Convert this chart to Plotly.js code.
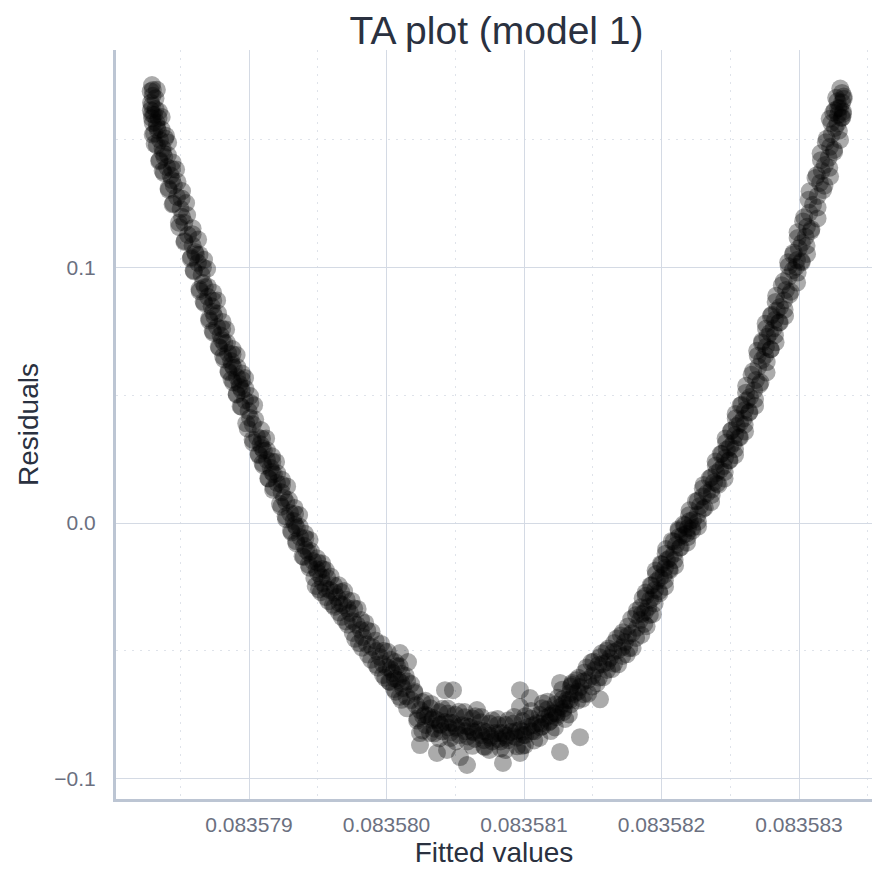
<!DOCTYPE html>
<html>
<head>
<meta charset="utf-8">
<script src="https://cdn.plot.ly/plotly-3.0.1.min.js"></script>
<style>html,body{margin:0;padding:0;background:#fff;}#chart{width:872px;height:871px;}</style>
</head>
<body>
<div id="chart"></div>
<script>
const chartTitle = 'TA plot (model 1)';
const xLabel = 'Fitted values';
const yLabel = 'Residuals';

// Points read along the band, first pass
const fittedA = [
0.0835782945,0.0835783000,0.0835783200,
0.0835782873,0.0835783200,0.0835782950,
0.0835783091,0.0835783420,0.0835783000,
0.0835783309,0.0835783650,0.0835783100,
0.0835783527,0.0835783900,0.0835783300,
0.0835783745,0.0835784100,0.0835783500,
0.0835784036,0.0835784400,0.0835783800,
0.0835784400,0.0835784800,0.0835784150,
0.0835784764,0.0835785100,0.0835784500,
0.0835785127,0.0835785500,0.0835784900,
0.0835785564,0.0835785900,0.0835785300,
0.0835786073,0.0835786400,0.0835785800,
0.0835786291,0.0835786650,0.0835786000,
0.0835786655,0.0835787000,0.0835786400,
0.0835787018,0.0835787400,0.0835786750,
0.0835787382,0.0835787750,0.0835787100,
0.0835787673,0.0835788050,0.0835787400,
0.0835788036,0.0835788400,0.0835787800,
0.0835788473,0.0835788800,0.0835788200,
0.0835788764,0.0835789150,0.0835788500,
0.0835789127,0.0835789500,0.0835788850,
0.0835789345,0.0835789750,0.0835789100,
0.0835789709,0.0835790100,0.0835789450,
0.0835790073,0.0835790450,0.0835789800,
0.0835790582,0.0835790950,0.0835790300,
0.0835790945,0.0835791300,0.0835790700,
0.0835791309,0.0835791700,0.0835791050,
0.0835791673,0.0835792050,0.0835791400,
0.0835792036,0.0835792400,0.0835791750,
0.0835792545,0.0835792900,0.0835792250,
0.0835792982,0.0835793350,0.0835792700,
0.0835793345,0.0835793700,0.0835793050,
0.0835793709,0.0835794100,0.0835793450,
0.0835794145,0.0835794500,0.0835793900,
0.0835794655,0.0835795000,0.0835794400,
0.0835795018,0.0835795350,0.0835794750,
0.0835795382,0.0835795700,0.0835795100,
0.0835795891,0.0835796200,0.0835795600,
0.0835796400,0.0835796700,0.0835796100,
0.0835796836,0.0835797100,0.0835796550,
0.0835797345,0.0835797650,0.0835797050,
0.0835797855,0.0835798150,0.0835797550,
0.0835798291,0.0835798600,0.0835798000,
0.0835798945,0.0835799200,0.0835798650,
0.0835799527,0.0835799800,0.0835799250,
0.0835800036,0.0835800300,0.0835799750,
0.0835800473,0.0835800750,0.0835800200,
0.0835800836,0.0835801100,0.0835800550,
0.0835801200,0.0835801500,0.0835800950,
0.0835801782,0.0835802050,0.0835801500,
0.0835802436,0.0835802600,0.0835802250,0.0835802800,
0.0835803018,0.0835803200,0.0835802850,0.0835803300,
0.0835803673,0.0835803850,0.0835803500,0.0835803900,
0.0835804255,0.0835804450,0.0835804050,0.0835804500,
0.0835804836,0.0835805000,0.0835804650,0.0835805100,
0.0835805491,0.0835805700,0.0835805300,0.0835805750,
0.0835806073,0.0835806250,0.0835805900,0.0835806350,
0.0835806655,0.0835806850,0.0835806450,0.0835806900,
0.0835807309,0.0835807500,0.0835807100,0.0835807550,
0.0835807891,0.0835808100,0.0835807700,0.0835808150,
0.0835808473,0.0835808650,0.0835808300,0.0835808700,
0.0835809055,0.0835809250,0.0835808850,0.0835809300,
0.0835809709,0.0835809900,0.0835809500,0.0835809950,
0.0835810291,0.0835810500,0.0835810100,0.0835810550,
0.0835810945,0.0835811150,0.0835810750,0.0835811200,
0.0835811527,0.0835811700,0.0835811350,0.0835811800,
0.0835812109,0.0835812300,0.0835811900,0.0835812350,
0.0835812618,0.0835812800,0.0835812400,0.0835812850,
0.0835813127,0.0835813350,0.0835812900,0.0835813400,
0.0835813636,0.0835813900,0.0835813400,
0.0835814073,0.0835814350,0.0835813800,
0.0835814655,0.0835814950,0.0835814400,
0.0835815164,0.0835815450,0.0835814900,
0.0835815745,0.0835816050,0.0835815500,
0.0835816255,0.0835816550,0.0835816000,
0.0835816836,0.0835817150,0.0835816550,
0.0835817345,0.0835817650,0.0835817050,
0.0835817855,0.0835818150,0.0835817550,
0.0835818436,0.0835818750,0.0835818150,
0.0835818800,0.0835819150,0.0835818500,
0.0835819164,0.0835819500,0.0835818850,
0.0835819527,0.0835819850,0.0835819200,
0.0835819891,0.0835820250,0.0835819600,
0.0835820255,0.0835820600,0.0835819950,
0.0835820618,0.0835820950,0.0835820300,
0.0835821055,0.0835821400,0.0835820750,
0.0835821564,0.0835821900,0.0835821250,
0.0835821927,0.0835822250,0.0835821600,
0.0835822291,0.0835822650,0.0835822000,
0.0835822800,0.0835823150,0.0835822500,
0.0835823309,0.0835823650,0.0835823000,
0.0835823818,0.0835824150,0.0835823500,
0.0835824255,0.0835824600,0.0835823950,
0.0835824618,0.0835824950,0.0835824300,
0.0835824982,0.0835825350,0.0835824700,
0.0835825345,0.0835825700,0.0835825050,
0.0835825709,0.0835826050,0.0835825400,
0.0835826073,0.0835826400,0.0835825750,
0.0835826436,0.0835826800,0.0835826150,
0.0835826873,0.0835827200,0.0835826550,
0.0835827309,0.0835827650,0.0835827000,
0.0835827600,0.0835827950,0.0835827300,
0.0835827891,0.0835828250,0.0835827600,
0.0835828255,0.0835828600,0.0835827950,
0.0835828618,0.0835828950,0.0835828300,
0.0835829055,0.0835829400,0.0835828750,
0.0835829564,0.0835829900,0.0835829250,
0.0835829855,0.0835830200,0.0835829550,
0.0835830218,0.0835830550,0.0835829900,
0.0835830582,0.0835830900,0.0835830300,
0.0835831018,0.0835831350,0.0835830700,
0.0835831527,0.0835831850,0.0835831200,
0.0835831891,0.0835832200,0.0835831600,
0.0835832255,0.0835832550,0.0835831950,
0.0835832618,0.0835832900,0.0835832350,
0.0835832836,0.0835833100,0.0835832600,
0.0835832982,0.0835833200,0.0835832800,
0.0835833127,0.0835833250,0.0835833000,
0.0835803670,0.0835805855,0.0835808470,0.0835812620,0.0835802436,0.0835810070,0.0835804836,0.0835809710
];

const residA = [
0.1714,0.1694,0.1662,
0.1645,0.1620,0.1600,
0.1597,0.1585,0.1565,
0.1550,0.1540,0.1525,
0.1499,0.1505,0.1478,
0.1448,0.1440,0.1420,
0.1393,0.1385,0.1370,
0.1342,0.1335,0.1310,
0.1276,0.1270,0.1250,
0.1198,0.1205,0.1175,
0.1127,0.1130,0.1100,
0.1061,0.1050,0.1040,
0.1018,0.1000,0.0985,
0.0939,0.0925,0.0915,
0.0885,0.0870,0.0860,
0.0826,0.0820,0.0800,
0.0767,0.0760,0.0745,
0.0716,0.0705,0.0690,
0.0665,0.0660,0.0640,
0.0618,0.0610,0.0595,
0.0571,0.0560,0.0550,
0.0532,0.0525,0.0505,
0.0481,0.0470,0.0455,
0.0411,0.0405,0.0390,
0.0337,0.0330,0.0315,
0.0294,0.0285,0.0270,
0.0247,0.0240,0.0225,
0.0200,0.0195,0.0175,
0.0157,0.0150,0.0130,
0.0098,0.0090,0.0075,
0.0039,0.0035,0.0015,
-0.0008,-0.0015,-0.0030,
-0.0055,-0.0060,-0.0080,
-0.0106,-0.0110,-0.0130,
-0.0149,-0.0155,-0.0175,
-0.0196,-0.0180,-0.0215,
-0.0235,-0.0215,-0.0260,
-0.0262,-0.0245,-0.0290,
-0.0290,-0.0270,-0.0320,
-0.0321,-0.0300,-0.0350,
-0.0352,-0.0335,-0.0385,
-0.0399,-0.0380,-0.0430,
-0.0446,-0.0420,-0.0470,
-0.0485,-0.0460,-0.0515,
-0.0524,-0.0500,-0.0555,
-0.0564,-0.0535,-0.0595,
-0.0587,-0.0560,-0.0620,
-0.0614,-0.0590,-0.0650,
-0.0646,-0.0620,-0.0680,
-0.0693,-0.0665,-0.0725,
-0.0732,-0.0700,-0.0765,-0.0750,
-0.0755,-0.0725,-0.0790,-0.0770,
-0.0771,-0.0740,-0.0805,-0.0790,
-0.0779,-0.0745,-0.0815,-0.0800,
-0.0783,-0.0750,-0.0820,-0.0805,
-0.0791,-0.0760,-0.0830,-0.0815,
-0.0798,-0.0765,-0.0835,-0.0820,
-0.0810,-0.0780,-0.0845,-0.0830,
-0.0818,-0.0785,-0.0850,-0.0840,
-0.0822,-0.0790,-0.0855,-0.0845,
-0.0822,-0.0790,-0.0855,-0.0840,
-0.0818,-0.0785,-0.0850,-0.0835,
-0.0810,-0.0775,-0.0840,-0.0830,
-0.0798,-0.0765,-0.0830,-0.0815,
-0.0783,-0.0750,-0.0815,-0.0800,
-0.0763,-0.0730,-0.0795,-0.0780,
-0.0744,-0.0710,-0.0775,-0.0760,
-0.0720,-0.0690,-0.0750,-0.0740,
-0.0693,-0.0665,-0.0725,-0.0710,
-0.0669,-0.0695,-0.0640,
-0.0642,-0.0670,-0.0615,
-0.0614,-0.0640,-0.0585,
-0.0575,-0.0605,-0.0545,
-0.0552,-0.0575,-0.0525,
-0.0528,-0.0550,-0.0500,
-0.0497,-0.0520,-0.0470,
-0.0466,-0.0490,-0.0440,
-0.0431,-0.0450,-0.0405,
-0.0380,-0.0395,-0.0360,
-0.0348,-0.0360,-0.0330,
-0.0301,-0.0315,-0.0285,
-0.0262,-0.0275,-0.0245,
-0.0215,-0.0225,-0.0200,
-0.0176,-0.0185,-0.0160,
-0.0137,-0.0145,-0.0120,
-0.0086,-0.0095,-0.0070,
-0.0047,-0.0055,-0.0030,
-0.0020,-0.0030,-0.0005,
0.0012,0.0005,0.0030,
0.0067,0.0060,0.0085,
0.0117,0.0110,0.0135,
0.0160,0.0150,0.0175,
0.0207,0.0200,0.0225,
0.0254,0.0245,0.0270,
0.0297,0.0290,0.0315,
0.0344,0.0335,0.0360,
0.0391,0.0385,0.0410,
0.0442,0.0435,0.0460,
0.0493,0.0485,0.0510,
0.0560,0.0550,0.0580,
0.0638,0.0630,0.0655,
0.0689,0.0680,0.0705,
0.0744,0.0735,0.0760,
0.0795,0.0785,0.0810,
0.0845,0.0835,0.0865,
0.0912,0.0905,0.0930,
0.0990,0.0980,0.1005,
0.1029,0.1020,0.1050,
0.1096,0.1085,0.1115,
0.1159,0.1150,0.1180,
0.1245,0.1235,0.1265,
0.1331,0.1320,0.1350,
0.1401,0.1390,0.1420,
0.1472,0.1460,0.1490,
0.1546,0.1535,0.1565,
0.1597,0.1585,0.1615,
0.1624,0.1610,0.1650,
0.1683,0.1660,0.1700,
-0.0900,-0.0947,-0.0939,-0.0896,-0.0869,-0.0869,-0.0654,-0.0654
];

// Points read along the band, second pass (between the first-pass positions)
const fittedB = [
0.0835782850,0.0835782990,0.0835783300,
0.0835782860,0.0835782940,0.0835783450,
0.0835782950,0.0835783280,0.0835783650,
0.0835782998,0.0835783368,0.0835783968,
0.0835783136,0.0835783716,0.0835784116,
0.0835783471,0.0835783841,0.0835784441,
0.0835783718,0.0835784298,0.0835784698,
0.0835784162,0.0835784532,0.0835785132,
0.0835784446,0.0835785026,0.0835785426,
0.0835784926,0.0835785296,0.0835785896,
0.0835785319,0.0835785899,0.0835786299,
0.0835785762,0.0835786132,0.0835786732,
0.0835785973,0.0835786553,0.0835786953,
0.0835786417,0.0835786787,0.0835787387,
0.0835786700,0.0835787280,0.0835787680,
0.0835787108,0.0835787478,0.0835788078,
0.0835787355,0.0835787935,0.0835788335,
0.0835787835,0.0835788205,0.0835788805,
0.0835788119,0.0835788699,0.0835789099,
0.0835788526,0.0835788896,0.0835789496,
0.0835788736,0.0835789316,0.0835789716,
0.0835789107,0.0835789477,0.0835790077,
0.0835789391,0.0835789971,0.0835790371,
0.0835789908,0.0835790278,0.0835790878,
0.0835790264,0.0835790844,0.0835791244,
0.0835790707,0.0835791077,0.0835791677,
0.0835790991,0.0835791571,0.0835791971,
0.0835791435,0.0835791805,0.0835792405,
0.0835791791,0.0835792371,0.0835792771,
0.0835792344,0.0835792714,0.0835793314,
0.0835792664,0.0835793244,0.0835793644,
0.0835793107,0.0835793477,0.0835794077,
0.0835793427,0.0835794007,0.0835794407,
0.0835793980,0.0835794350,0.0835794950,
0.0835794337,0.0835794917,0.0835795317,
0.0835794850,0.0835795260,0.0835795580,
0.0835795237,0.0835795597,0.0835795937,
0.0835795796,0.0835796206,0.0835796526,
0.0835796218,0.0835796578,0.0835796918,
0.0835796741,0.0835797151,0.0835797471,
0.0835797200,0.0835797560,0.0835797900,
0.0835797723,0.0835798133,0.0835798453,
0.0835798218,0.0835798578,0.0835798918,
0.0835798886,0.0835799296,0.0835799616,
0.0835799382,0.0835799742,0.0835800082,
0.0835799905,0.0835800315,0.0835800635,
0.0835800255,0.0835800615,0.0835800955,
0.0835800668,0.0835801078,0.0835801398,
0.0835801091,0.0835801451,0.0835801791,
0.0835802009,0.0835802159,0.0835802229,
0.0835802827,0.0835802667,0.0835802607,
0.0835803246,0.0835803396,0.0835803466,
0.0835804064,0.0835803904,0.0835803844,
0.0835804446,0.0835804596,0.0835804666,
0.0835805264,0.0835805104,0.0835805044,
0.0835805682,0.0835805832,0.0835805902,
0.0835806464,0.0835806304,0.0835806244,
0.0835806882,0.0835807032,0.0835807102,
0.0835807700,0.0835807540,0.0835807480,
0.0835808082,0.0835808232,0.0835808302,
0.0835808864,0.0835808704,0.0835808644,
0.0835809282,0.0835809432,0.0835809502,
0.0835810100,0.0835809940,0.0835809880,
0.0835810518,0.0835810668,0.0835810738,
0.0835811336,0.0835811176,0.0835811116,
0.0835811718,0.0835811868,0.0835811938,
0.0835812464,0.0835812304,0.0835812244,
0.0835812773,0.0835812923,0.0835812993,
0.0835813482,0.0835813322,0.0835813262,
0.0835813505,0.0835813915,0.0835814235,
0.0835813964,0.0835814324,0.0835814664,
0.0835814560,0.0835814970,0.0835815290,
0.0835815055,0.0835815415,0.0835815755,
0.0835815650,0.0835816060,0.0835816380,
0.0835816146,0.0835816506,0.0835816846,
0.0835816741,0.0835817151,0.0835817471,
0.0835817200,0.0835817560,0.0835817900,
0.0835817796,0.0835818206,0.0835818526,
0.0835818218,0.0835818578,0.0835818918,
0.0835818632,0.0835819042,0.0835819362,
0.0835818846,0.0835819426,0.0835819826,
0.0835819289,0.0835819659,0.0835820259,
0.0835819573,0.0835820153,0.0835820553,
0.0835820017,0.0835820387,0.0835820987,
0.0835820337,0.0835820917,0.0835821317,
0.0835820890,0.0835821260,0.0835821860,
0.0835821246,0.0835821826,0.0835822226,
0.0835821689,0.0835822059,0.0835822659,
0.0835822046,0.0835822626,0.0835823026,
0.0835822635,0.0835823005,0.0835823605,
0.0835823064,0.0835823644,0.0835824044,
0.0835823617,0.0835823987,0.0835824587,
0.0835823937,0.0835824517,0.0835824917,
0.0835824380,0.0835824750,0.0835825350,
0.0835824664,0.0835825244,0.0835825644,
0.0835825107,0.0835825477,0.0835826077,
0.0835825391,0.0835825971,0.0835826371,
0.0835825835,0.0835826205,0.0835826805,
0.0835826155,0.0835826735,0.0835827135,
0.0835826671,0.0835827041,0.0835827641,
0.0835826955,0.0835827535,0.0835827935,
0.0835827326,0.0835827696,0.0835828296,
0.0835827573,0.0835828153,0.0835828553,
0.0835828017,0.0835828387,0.0835828987,
0.0835828337,0.0835828917,0.0835829317,
0.0835828890,0.0835829260,0.0835829860,
0.0835829210,0.0835829790,0.0835830190,
0.0835829617,0.0835829987,0.0835830587,
0.0835829900,0.0835830480,0.0835830880,
0.0835830380,0.0835830750,0.0835831350,
0.0835830773,0.0835831353,0.0835831753,
0.0835831289,0.0835831659,0.0835832259,
0.0835831573,0.0835832153,0.0835832553,
0.0835832017,0.0835832387,0.0835832987,
0.0835832227,0.0835832807,0.0835833150,
0.0835832489,0.0835832859,0.0835833200,
0.0835832700,0.0835833135,0.0835833250
];

const residB = [
0.1690,0.1672,0.1695,
0.1615,0.1633,0.1611,
0.1584,0.1566,0.1589,
0.1520,0.1537,0.1515,
0.1484,0.1466,0.1489,
0.1416,0.1433,0.1411,
0.1378,0.1360,0.1383,
0.1304,0.1321,0.1299,
0.1247,0.1229,0.1252,
0.1158,0.1175,0.1153,
0.1104,0.1086,0.1109,
0.1035,0.1052,0.1030,
0.0989,0.0971,0.0994,
0.0907,0.0924,0.0902,
0.0866,0.0848,0.0871,
0.0792,0.0809,0.0787,
0.0752,0.0734,0.0757,
0.0686,0.0703,0.0681,
0.0652,0.0634,0.0657,
0.0590,0.0607,0.0585,
0.0562,0.0544,0.0567,
0.0502,0.0519,0.0497,
0.0456,0.0438,0.0461,
0.0369,0.0386,0.0364,
0.0326,0.0308,0.0331,
0.0266,0.0283,0.0261,
0.0234,0.0216,0.0239,
0.0174,0.0191,0.0169,
0.0138,0.0120,0.0143,
0.0064,0.0081,0.0059,
0.0026,0.0008,0.0031,
-0.0037,-0.0020,-0.0042,
-0.0071,-0.0089,-0.0066,
-0.0133,-0.0116,-0.0138,
-0.0163,-0.0181,-0.0158,
-0.0246,-0.0212,-0.0184,
-0.0271,-0.0257,-0.0209,
-0.0306,-0.0272,-0.0244,
-0.0328,-0.0314,-0.0266,
-0.0367,-0.0333,-0.0305,
-0.0398,-0.0384,-0.0336,
-0.0453,-0.0419,-0.0391,
-0.0488,-0.0474,-0.0426,
-0.0535,-0.0501,-0.0473,
-0.0566,-0.0552,-0.0504,
-0.0606,-0.0572,-0.0544,
-0.0623,-0.0609,-0.0561,
-0.0660,-0.0626,-0.0598,
-0.0692,-0.0678,-0.0630,
-0.0658,-0.0713,-0.0773,
-0.0696,-0.0756,-0.0812,
-0.0708,-0.0763,-0.0823,
-0.0727,-0.0787,-0.0843,
-0.0726,-0.0781,-0.0841,
-0.0739,-0.0799,-0.0855,
-0.0740,-0.0795,-0.0855,
-0.0756,-0.0816,-0.0872,
-0.0759,-0.0814,-0.0874,
-0.0772,-0.0832,-0.0888,
-0.0767,-0.0822,-0.0882,
-0.0772,-0.0832,-0.0888,
-0.0759,-0.0814,-0.0874,
-0.0756,-0.0816,-0.0872,
-0.0736,-0.0791,-0.0851,
-0.0725,-0.0785,-0.0841,
-0.0699,-0.0754,-0.0814,
-0.0684,-0.0744,-0.0800,
-0.0652,-0.0707,-0.0767,
-0.0633,-0.0693,-0.0749,
-0.0626,-0.0660,-0.0688,
-0.0606,-0.0620,-0.0668,
-0.0565,-0.0599,-0.0627,
-0.0542,-0.0556,-0.0604,
-0.0510,-0.0544,-0.0572,
-0.0491,-0.0505,-0.0553,
-0.0452,-0.0486,-0.0514,
-0.0427,-0.0441,-0.0489,
-0.0376,-0.0410,-0.0438,
-0.0342,-0.0356,-0.0404,
-0.0295,-0.0329,-0.0357,
-0.0272,-0.0290,-0.0267,
-0.0244,-0.0227,-0.0249,
-0.0186,-0.0204,-0.0181,
-0.0162,-0.0145,-0.0167,
-0.0102,-0.0120,-0.0097,
-0.0072,-0.0055,-0.0077,
-0.0024,-0.0042,-0.0019,
-0.0009,0.0008,-0.0014,
0.0050,0.0032,0.0055,
0.0087,0.0104,0.0082,
0.0149,0.0131,0.0154,
0.0179,0.0196,0.0174,
0.0241,0.0223,0.0246,
0.0271,0.0288,0.0266,
0.0331,0.0313,0.0336,
0.0363,0.0380,0.0358,
0.0427,0.0409,0.0432,
0.0463,0.0480,0.0458,
0.0537,0.0519,0.0542,
0.0594,0.0611,0.0589,
0.0674,0.0656,0.0679,
0.0712,0.0729,0.0707,
0.0780,0.0762,0.0785,
0.0815,0.0832,0.0810,
0.0889,0.0871,0.0894,
0.0946,0.0963,0.0941,
0.1020,0.1002,0.1025,
0.1058,0.1075,0.1053,
0.1138,0.1120,0.1143,
0.1197,0.1214,0.1192,
0.1298,0.1280,0.1303,
0.1361,0.1378,0.1356,
0.1447,0.1429,0.1452,
0.1504,0.1521,0.1499,
0.1582,0.1564,0.1587,
0.1606,0.1623,0.1601,
0.1664,0.1646,0.1669
];

// Scattered points read around the bottom of the curve
const fittedC = [
0.0835800982,0.0835801564,0.0835804255,0.0835806582,0.0835809709,0.0835810436,
0.0835811382,0.0835802436,0.0835803164,0.0835804400,0.0835807164,0.0835812618,
0.0835814073,0.0835815527,0.0835805345,0.0835809709
];
const residC = [
-0.0509,-0.0544,-0.0654,-0.0732,-0.0720,-0.0685,
-0.0705,-0.0822,-0.0822,-0.0888,-0.0877,-0.0626,
-0.0838,-0.0690,-0.0916,-0.0900
];

const trace = {
  type: 'scatter',
  mode: 'markers',
  x: fittedA.concat(fittedB, fittedC),
  y: residA.concat(residB, residC),
  marker: {size: 18, color: '#000000', opacity: 0.33, line: {width: 0}},
  hoverinfo: 'x+y'
};

const gridCol = '#d4dae4';
const minorCol = '#dfe3ea';
const axisCol = '#bcc5d3';

const layout = {
  width: 872,
  height: 871,
  margin: {l: 116, r: 0, t: 50, b: 72, pad: 0},
  paper_bgcolor: '#ffffff',
  plot_bgcolor: '#ffffff',
  showlegend: false,
  font: {family: 'Liberation Sans, Arial, sans-serif', color: '#2a3140'},
  title: {
    text: chartTitle,
    font: {size: 39, color: '#2a3140'},
    xref: 'container', x: 0.5694, xanchor: 'center',
    yref: 'container', y: 0.965, yanchor: 'middle'
  },
  xaxis: {
    range: [0.0835780327, 0.0835835309],
    tick0: 0.083579, dtick: 1e-6, tickformat: '.6f',
    showgrid: true, gridcolor: gridCol, gridwidth: 1,
    zeroline: false,
    showline: true, linecolor: axisCol, linewidth: 3,
    ticks: 'outside', ticklen: 5, tickcolor: 'rgba(0,0,0,0)',
    tickfont: {size: 21, color: '#6b7080'},
    minor: {tick0: 0.0835785, dtick: 1e-6, showgrid: true, gridcolor: minorCol, griddash: '2px,6px', gridwidth: 1, ticks: ''},
    title: {text: xLabel, font: {size: 28, color: '#2a3140'}, standoff: 8},
    automargin: false
  },
  yaxis: {
    range: [-0.108, 0.1851],
    tick0: 0, dtick: 0.1, tickformat: '.1f',
    showgrid: true, gridcolor: gridCol, gridwidth: 1,
    zeroline: false,
    showline: true, linecolor: axisCol, linewidth: 3,
    ticks: 'outside', ticklen: 13, tickcolor: 'rgba(0,0,0,0)',
    tickfont: {size: 21, color: '#6b7080'},
    minor: {tick0: 0.05, dtick: 0.1, showgrid: true, gridcolor: minorCol, griddash: '2px,6px', gridwidth: 1, ticks: ''},
    title: {text: yLabel, font: {size: 28, color: '#2a3140'}, standoff: 8},
    automargin: false
  }
};

Plotly.newPlot('chart', [trace], layout, {displayModeBar: false, staticPlot: true});
</script>
</body>
</html>
